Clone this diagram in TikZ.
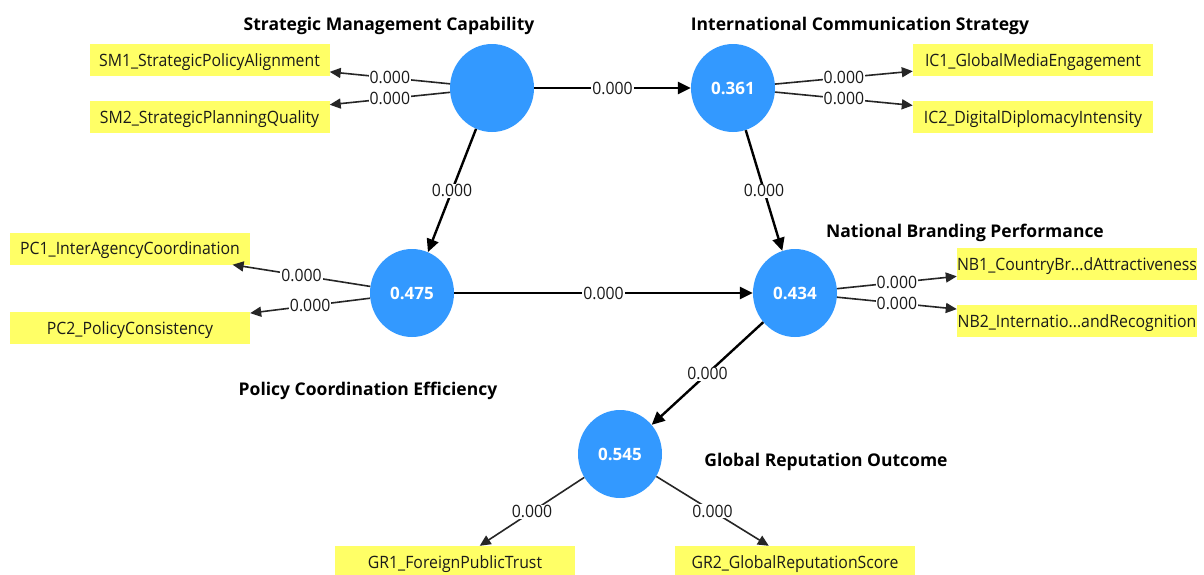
\documentclass[tikz,border=0pt]{standalone}
\usepackage{fontspec}
\setmainfont{Open Sans}
\newfontfamily\narrowsans{Open Sans}[FakeStretch=0.93]
\usetikzlibrary{arrows.meta,shapes.geometric}
\definecolor{lvblue}{HTML}{3399FF}
\definecolor{indyellow}{HTML}{FFFF66}
\definecolor{inktxt}{HTML}{1A1A1A}
\begin{document}
\begin{tikzpicture}[x=1pt,y=-1pt,
  latent/.style={ellipse,fill=lvblue,draw=none,minimum width=84pt,minimum height=88pt,
    inner sep=0pt,text=white,font=\fontsize{17}{17}\selectfont\bfseries,
    text height=12pt,text depth=0pt},
  indicator/.style={rectangle,fill=indyellow,draw=none,minimum width=240pt,minimum height=32pt,
    inner sep=0pt,text=inktxt,font=\narrowsans\fontsize{17}{17}\selectfont,
    text height=12pt,text depth=0pt},
  lvtitle/.style={anchor=base,inner sep=0pt,text=black,font=\fontsize{17.5}{17.5}\selectfont\bfseries},
  coef/.style={fill=white,inner sep=1pt,text=inktxt,font=\narrowsans\fontsize{17}{17}\selectfont,
    text height=12pt,text depth=0pt},
  pathline/.style={line width=2.4pt,draw=black,-{Triangle[length=13pt,width=12pt]}},
  loadline/.style={line width=1.6pt,draw=black!85,-{Triangle[length=11pt,width=10pt]}}
]
\useasboundingbox[fill=white] (0,0) rectangle (1204,574);

% latent variables
\node[latent] (SM) at (492,88) {};
\node[latent] (IC) at (733,88) {0.361};
\node[latent] (PC) at (412,293) {0.475};
\node[latent] (NB) at (795,293) {0.434};
\node[latent] (GR) at (620,454) {0.545};

% construct names
\node[lvtitle] (tSM) at (389,30) {Strategic Management Capability};
\node[lvtitle] (tIC) at (860,30) {International Communication Strategy};
\node[lvtitle] (tPC) at (368,395) {Policy Coordination Efficiency};
\node[lvtitle] (tNB) at (965,237) {National Branding Performance};
\node[lvtitle] (tGR) at (826,466) {Global Reputation Outcome};

% indicators
\node[indicator] (SM1) at (209.5,60) {SM1\_StrategicPolicyAlignment};
\node[indicator] (SM2) at (209.5,117) {SM2\_StrategicPlanningQuality};
\node[indicator] (IC1) at (1033,60) {IC1\_GlobalMediaEngagement};
\node[indicator] (IC2) at (1033,117) {IC2\_DigitalDiplomacyIntensity};
\node[indicator] (PC1) at (130,248.5) {PC1\_InterAgencyCoordination};
\node[indicator] (PC2) at (130,328) {PC2\_PolicyConsistency};
\node[indicator] (NB1) at (1077,264) {NB1\_CountryBr...dAttractiveness};
\node[indicator] (NB2) at (1077,321) {NB2\_Internatio...andRecognition};
\node[indicator] (GR1) at (455,562) {GR1\_ForeignPublicTrust};
\node[indicator] (GR2) at (795,562) {GR2\_GlobalReputationScore};

% structural paths
\draw[pathline] (SM) -- node[coef,midway] {0.000} (IC);
\draw[pathline] (SM) -- node[coef,midway] {0.000} (PC);
\draw[pathline] (IC) -- node[coef,midway] {0.000} (NB);
\draw[pathline] (PC) -- node[coef,midway] {0.000} (NB);
\draw[pathline] (NB) -- node[coef,midway] {0.000} (GR);

% outer loadings
\draw[loadline] (SM) -- node[coef,midway] {0.000} (SM1);
\draw[loadline] (SM) -- node[coef,midway] {0.000} (SM2);
\draw[loadline] (IC) -- node[coef,midway] {0.000} (IC1);
\draw[loadline] (IC) -- node[coef,midway] {0.000} (IC2);
\draw[loadline] (PC) -- node[coef,midway] {0.000} (PC1);
\draw[loadline] (PC) -- node[coef,midway] {0.000} (PC2);
\draw[loadline] (NB) -- node[coef,midway] {0.000} (NB1);
\draw[loadline] (NB) -- node[coef,midway] {0.000} (NB2);
\draw[loadline] (GR) -- node[coef,midway] {0.000} (GR1);
\draw[loadline] (GR) -- node[coef,midway] {0.000} (GR2);
\end{tikzpicture}
\end{document}
